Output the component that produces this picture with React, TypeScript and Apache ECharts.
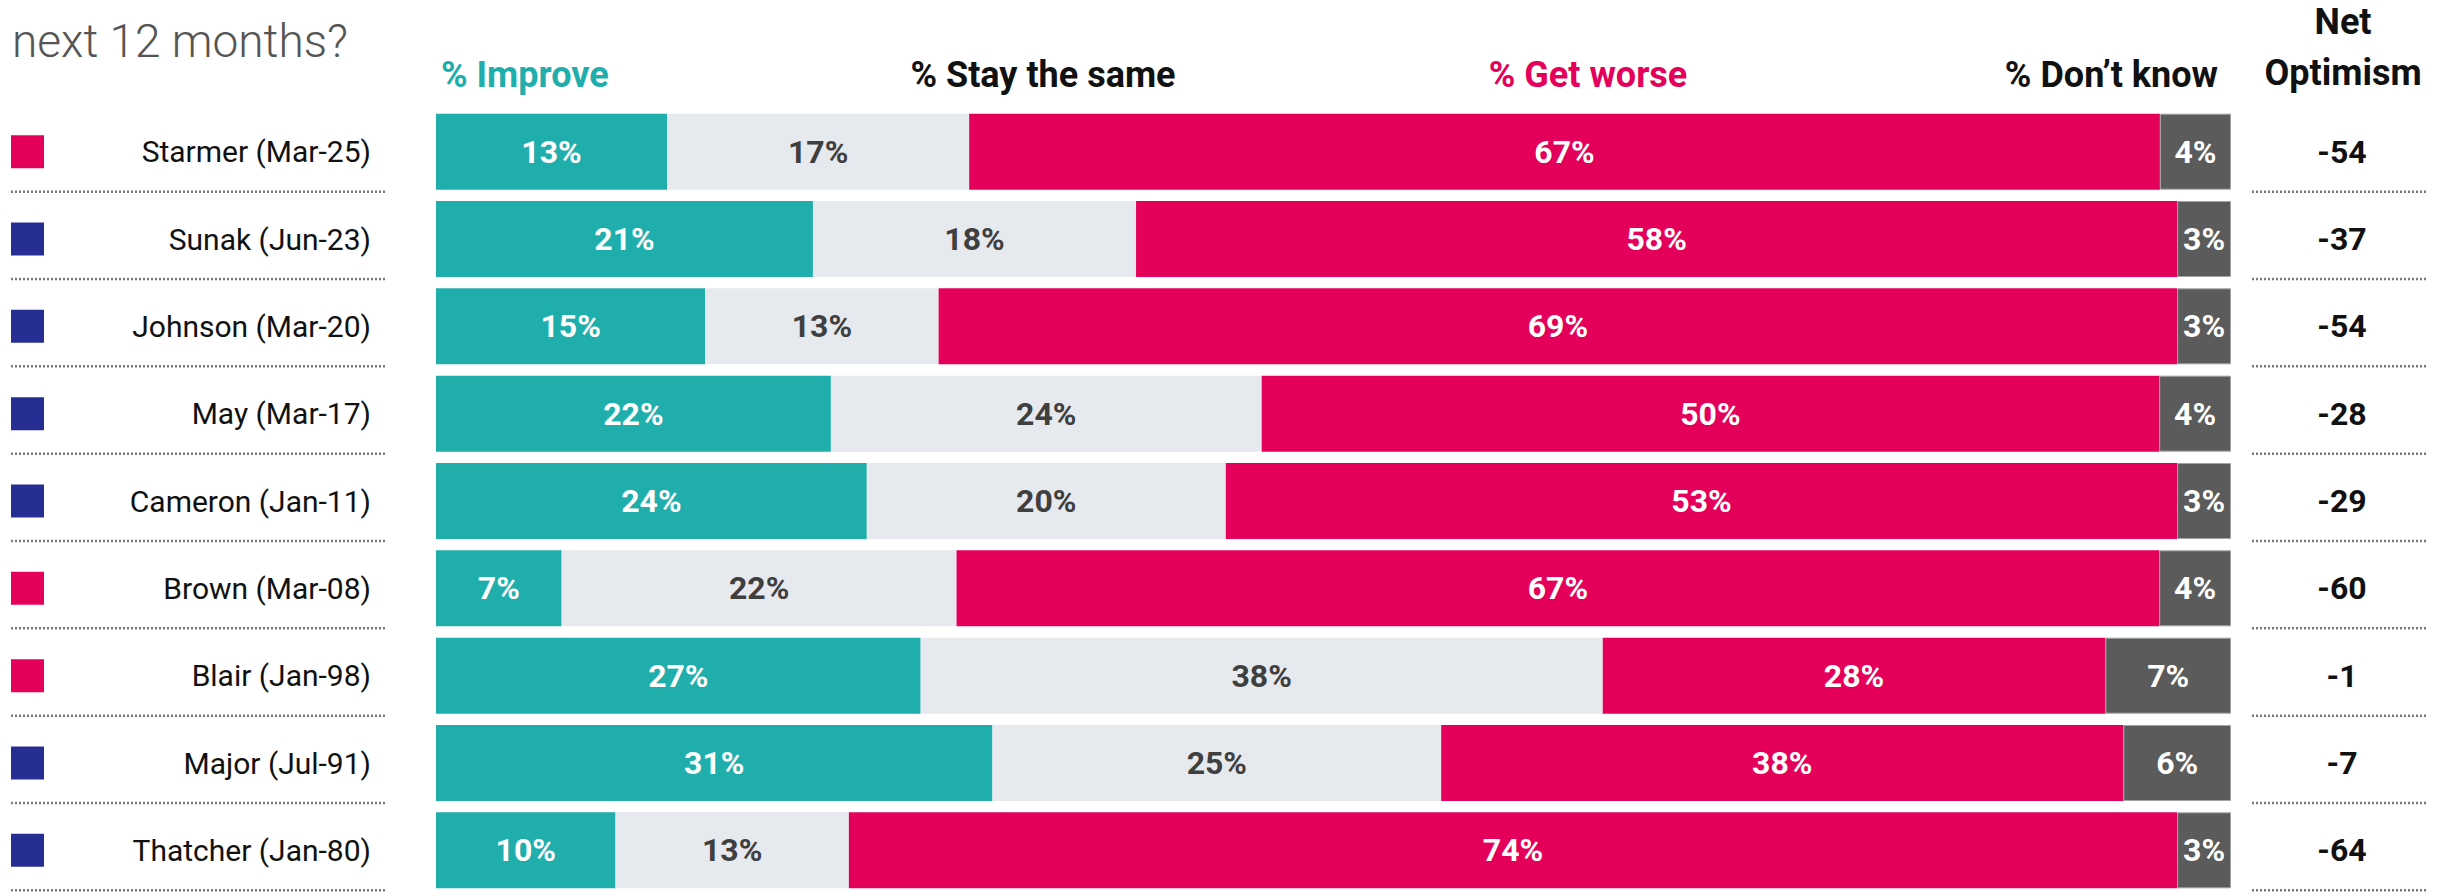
import React, { useEffect, useRef } from "react";
import * as echarts from "echarts";

const categories = [
  "Starmer (Mar-25)",
  "Sunak (Jun-23)",
  "Johnson (Mar-20)",
  "May (Mar-17)",
  "Cameron (Jan-11)",
  "Brown (Mar-08)",
  "Blair (Jan-98)",
  "Major (Jul-91)",
  "Thatcher (Jan-80)",
];
const party = ["Lab", "Con", "Con", "Con", "Con", "Lab", "Lab", "Con", "Con"];
const improve = [13, 21, 15, 22, 24, 7, 27, 31, 10];
const staySame = [17, 18, 13, 24, 20, 22, 38, 25, 13];
const getWorse = [67, 58, 69, 50, 53, 67, 28, 38, 74];
const dontKnow = [4, 3, 3, 4, 3, 4, 7, 6, 3];
const netOptimism = [-54, -37, -54, -28, -29, -60, -1, -7, -64];
const seriesNames = ["% Improve", "% Stay the same", "% Get worse", "% Don\u2019t know"];

const TEAL = "#20aeac";
const LIGHT = "#e6e9ee";
const RED = "#e4005a";
const DARK = "#5b5b5b";
const NAVY = "#262e93";
const FONT = "Roboto, 'Noto Sans', sans-serif";

export default function App() {
  const ref = useRef<HTMLDivElement>(null);
  useEffect(() => {
    if (!ref.current) return;
    const chart = echarts.init(ref.current, undefined, { renderer: "svg" });
    const raw = [improve, staySame, getWorse, dontKnow];
    const totals = categories.map((_, i) => raw.reduce((s, arr) => s + arr[i], 0));
    const colors = [TEAL, LIGHT, RED, DARK];
    const labelColors = ["#ffffff", "#3f3f3f", "#ffffff", "#ffffff"];

    const barSeries = raw.map((arr, k) => ({
      name: seriesNames[k],
      type: "bar",
      stack: "total",
      barWidth: 76,
      xAxisIndex: 0,
      yAxisIndex: 0,
      data: arr.map((v, i) => (v / totals[i]) * 100),
      itemStyle: {
        color: colors[k],
        borderColor: k === 3 ? "#a3a3a3" : undefined,
        borderWidth: k === 3 ? 1 : 0,
      },
      label: {
        show: true,
        position: "inside",
        fontFamily: FONT,
        fontSize: 32,
        fontWeight: "bold",
        color: labelColors[k],
        formatter: (p: any) => `${arr[p.dataIndex]}%`,
      },
    }));

    const option: any = {
      animation: false,
      backgroundColor: "#ffffff",
      textStyle: { fontFamily: FONT },
      grid: { left: 436, top: 108, width: 1795, height: 790 },
      xAxis: { type: "value", min: 0, max: 100, show: false },
      yAxis: [
        {
          type: "category",
          data: categories,
          inverse: true,
          position: "left",
          axisLine: { show: false },
          axisTick: { show: false },
          splitLine: { show: false },
          axisLabel: {
            margin: 65,
            fontSize: 30,
            color: "#111111",
            fontFamily: FONT,
          },
        },
        {
          type: "category",
          data: categories,
          inverse: true,
          position: "right",
          axisLine: { show: false },
          axisTick: { show: false },
          splitLine: { show: false },
          axisLabel: {
            margin: 111,
            align: "center",
            fontSize: 32,
            fontWeight: "bold",
            color: "#111111",
            fontFamily: FONT,
            formatter: (_v: string, idx: number) => String(netOptimism[idx]),
          },
        },
      ],
      series: [
        ...barSeries,
        {
          type: "custom",
          xAxisIndex: 0,
          yAxisIndex: 0,
          clip: false,
          silent: true,
          encode: { x: 0, y: 1 },
          data: categories.map((_, i) => [0, i]),
          renderItem: (_params: any, api: any) => {
            const i = api.value(1);
            const c = api.coord([0, i]);
            const y = c[1];
            const sepY = y + 40;
            const dash = { stroke: "#7a7a7a", lineWidth: 2.5, lineDash: [2, 2] };
            return {
              type: "group",
              children: [
                {
                  type: "rect",
                  shape: { x: 11, y: y - 16.5, width: 33, height: 33 },
                  style: { fill: party[i] === "Lab" ? RED : NAVY },
                },
                {
                  type: "line",
                  shape: { x1: 11, y1: sepY, x2: 387, y2: sepY },
                  style: dash,
                },
                {
                  type: "line",
                  shape: { x1: 2252, y1: sepY, x2: 2427, y2: sepY },
                  style: dash,
                },
              ],
            };
          },
        },
      ],
      graphic: [
        {
          type: "text",
          x: 12,
          y: 41,
          style: {
            text: "next 12 months?",
            fill: "#555555",
            fontSize: 46,
            fontWeight: 300,
            fontFamily: FONT,
            align: "left",
            verticalAlign: "middle",
          },
        },
        {
          type: "text",
          x: 441,
          y: 75,
          style: {
            text: seriesNames[0],
            fill: TEAL,
            fontSize: 36,
            fontWeight: "bold",
            fontFamily: FONT,
            align: "left",
            verticalAlign: "middle",
          },
        },
        {
          type: "text",
          x: 1043,
          y: 75,
          style: {
            text: seriesNames[1],
            fill: "#111111",
            fontSize: 36,
            fontWeight: "bold",
            fontFamily: FONT,
            align: "center",
            verticalAlign: "middle",
          },
        },
        {
          type: "text",
          x: 1588,
          y: 75,
          style: {
            text: seriesNames[2],
            fill: RED,
            fontSize: 36,
            fontWeight: "bold",
            fontFamily: FONT,
            align: "center",
            verticalAlign: "middle",
          },
        },
        {
          type: "text",
          x: 2218,
          y: 75,
          style: {
            text: seriesNames[3],
            fill: "#111111",
            fontSize: 36,
            fontWeight: "bold",
            fontFamily: FONT,
            align: "right",
            verticalAlign: "middle",
          },
        },
        {
          type: "text",
          x: 2343,
          y: 22,
          style: {
            text: "Net",
            fill: "#111111",
            fontSize: 36,
            fontWeight: "bold",
            fontFamily: FONT,
            align: "center",
            verticalAlign: "middle",
          },
        },
        {
          type: "text",
          x: 2343,
          y: 73,
          style: {
            text: "Optimism",
            fill: "#111111",
            fontSize: 36,
            fontWeight: "bold",
            fontFamily: FONT,
            align: "center",
            verticalAlign: "middle",
          },
        },
      ],
    };
    chart.setOption(option);
    return () => chart.dispose();
  }, []);
  return (
    <div
      ref={ref}
      style={{ position: "fixed", left: 0, top: 0, width: 2445, height: 894 }}
    />
  );
}
